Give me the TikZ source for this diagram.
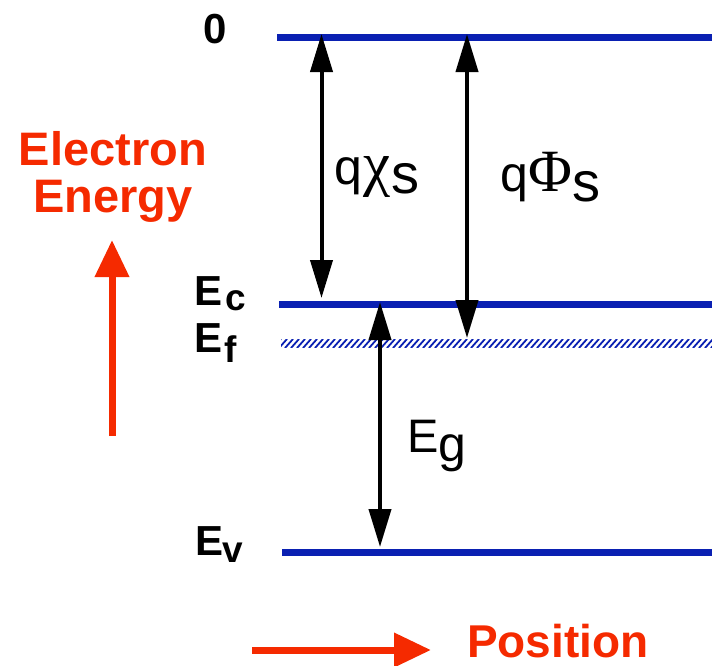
\documentclass[tikz,border=0pt]{standalone}
\usepackage{fontspec}
\setmainfont{Liberation Sans}
\newfontfamily\grk{Liberation Serif}
\usetikzlibrary{arrows.meta}
\definecolor{lvl}{RGB}{10,32,178}
\definecolor{axred}{RGB}{245,42,0}
\tikzset{
  level/.style={draw=lvl, line width=7pt},
  dbl/.style={line width=4pt, {Triangle[width=22pt,length=38pt]}-{Triangle[width=22pt,length=38pt]}},
  axis/.style={draw=axred, line width=7pt, -{Triangle[width=33pt,length=37pt]}},
  lab/.style={anchor=base west, inner sep=0pt, font=\bfseries\fontsize{42}{42}\selectfont},
  sub/.style={anchor=base west, inner sep=0pt, font=\bfseries\fontsize{37}{37}\selectfont},
  rlab/.style={inner sep=0pt, text=axred, font=\bfseries\fontsize{47}{47}\selectfont}
}
\begin{document}
\begin{tikzpicture}[x=1pt,y=-1pt]
\useasboundingbox (0,0) rectangle (712,665);
% levels
\coordinate (vacL) at (277,37);  \coordinate (vacR) at (712,37);
\coordinate (ecL) at (279,304);  \coordinate (ecR) at (712,304);
\coordinate (evL) at (282,552);  \coordinate (evR) at (712,552);
\draw[level] (vacL) -- (vacR);
\draw[level] (ecL) -- (ecR);
\draw[level] (evL) -- (evR);
% hatched Fermi level
\begin{scope}
  \clip (281,339.5) rectangle (712,347.5);
  \foreach \x in {273,279,...,717}{
    \draw[lvl, line width=1.8pt] (\x,348) -- (\x+8,339);
  }
\end{scope}
% level labels
\node[lab] (zero) at (203,43) {0};
\node[lab] (ec) at (194,305) {E};
\node[sub] (ecs) at (225,310) {c};
\node[lab] (ef) at (194,352) {E};
\node[sub] (efs) at (224,362) {f};
\node[lab] (ev) at (195,555) {E};
\node[sub] (evs) at (222,562) {v};
% double arrows
\coordinate (chiT) at (321.5,34); \coordinate (chiB) at (321.5,298);
\coordinate (phiT) at (467,34);   \coordinate (phiB) at (467,338);
\coordinate (egT) at (380,302);   \coordinate (egB) at (380,547);
\draw[dbl] (chiT) -- (chiB);
\draw[dbl] (phiT) -- (phiB);
\draw[dbl] (egT) -- (egB);
% arrow labels
\node[anchor=base west, inner sep=0pt] (chil) at (334,184)
  {\fontsize{50}{50}\selectfont q\kern1pt{\grk\fontsize{61}{61}\selectfont χ}\kern1pt\raisebox{-9pt}{\fontsize{56}{56}\selectfont s}};
\node[anchor=base west, inner sep=0pt] (phil) at (500,191)
  {\fontsize{50}{50}\selectfont q{\grk\fontsize{60}{60}\selectfont Φ}\kern1pt\raisebox{-10pt}{\fontsize{56}{56}\selectfont s}};
\node[anchor=base west, inner sep=0pt] (egl) at (407,452)
  {\fontsize{47}{47}\selectfont E\raisebox{-9pt}{\fontsize{50}{50}\selectfont g}};
% axes
\node[rlab, anchor=base] (el1) at (113,165) {Electron};
\node[rlab, anchor=base] (el2) at (113,212) {Energy};
\node[rlab, anchor=base west, font=\bfseries\fontsize{46}{46}\selectfont] (pos) at (467,657) {Position};
\coordinate (upB) at (112,436); \coordinate (upT) at (112,240);
\coordinate (rtL) at (252,650); \coordinate (rtR) at (431,650);
\draw[axis] (upB) -- (upT);
\draw[axis] (rtL) -- (rtR);
\end{tikzpicture}
\end{document}
